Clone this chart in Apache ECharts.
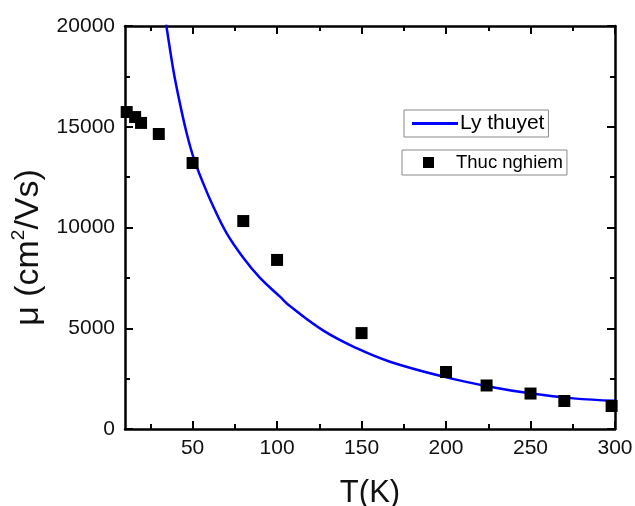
<!DOCTYPE html>
<html>
<head>
<meta charset="utf-8">
<script src="https://cdn.jsdelivr.net/npm/echarts@6/dist/echarts.min.js"></script>
<style>
html,body{margin:0;padding:0;background:#fff;}
#c{width:635px;height:506px;}
</style>
</head>
<body>
<div id="c"></div>
<script>
// Experimental data (Thuc nghiem)
const tExp = [11, 16, 19.5, 30, 50, 80, 100, 150, 200, 224, 250, 270, 298];
const muExp = [15730, 15480, 15190, 14640, 13200, 10320, 8390, 4760, 2830, 2160, 1760, 1390, 1140];
// Theoretical curve (Ly thuyet)
const tTheory = [33, 34.7, 38.6, 42.5, 46.5, 50.4, 56.3, 62.3, 70.2, 80, 89.9, 101.7, 107.6, 127.4, 147.1, 166.8, 198.4, 226, 249.7, 275.3, 300];
const muTheory = [20800, 19890, 17820, 16160, 14680, 13510, 12190, 11030, 9710, 8500, 7500, 6570, 6100, 4880, 4010, 3340, 2600, 2100, 1770, 1520, 1400];
// Axis ticks
const xMajor = [50, 100, 150, 200, 250, 300];
const xMinor = [25, 75, 125, 175, 225, 275];
const xMin = 10, xMax = 300;
const yMin = 0, yMax = 20000, yStep = 5000;

const FONT = 'Liberation Sans, Arial, sans-serif';
const chart = echarts.init(document.getElementById('c'));

function xAx(pos, ticks, len, withLine, withLabel, name) {
  const a = {
    type: 'value', position: pos, min: xMin, max: xMax,
    axisLine: {show: withLine, onZero: false, lineStyle: {color: '#000', width: 2.5}},
    axisTick: {show: true, inside: true, length: len, customValues: ticks, lineStyle: {color: '#000', width: 2}},
    axisLabel: withLabel ? {show: true, customValues: ticks, margin: 9, fontSize: 21, color: '#111', fontFamily: FONT} : {show: false},
    splitLine: {show: false}
  };
  if (name) {
    a.name = name; a.nameLocation = 'middle'; a.nameGap = 49;
    a.nameTextStyle = {fontSize: 31, color: '#111', fontFamily: FONT};
  }
  return a;
}
function yAx(pos, withLabel, name) {
  const a = {
    type: 'value', position: pos, min: yMin, max: yMax, interval: yStep,
    axisLine: {show: true, onZero: false, lineStyle: {color: '#000', width: 2.5}},
    axisTick: {show: true, inside: true, length: 8, lineStyle: {color: '#000', width: 2}},
    minorTick: {show: true, splitNumber: 2, length: 5, lineStyle: {color: '#000', width: 2}},
    axisLabel: withLabel ? {show: true, margin: 10, fontSize: 21, color: '#111', fontFamily: FONT, formatter: v => String(v)} : {show: false},
    splitLine: {show: false}, minorSplitLine: {show: false}
  };
  if (name) {
    a.name = name; a.nameLocation = 'middle'; a.nameGap = 66;
    a.nameTextStyle = {fontSize: 34, color: '#111', fontFamily: FONT, padding: [0, 40, 0, 0],
      rich: {sup: {fontSize: 19, color: '#111', fontFamily: FONT, verticalAlign: 'top', lineHeight: 38}}};
  }
  return a;
}

const expData = tExp.map((t, i) => [t, muExp[i]]);
const thData = tTheory.map((t, i) => [t, muTheory[i]]);

chart.setOption({
  animation: false,
  backgroundColor: '#fff',
  grid: {left: 125, right: 20, top: 26, bottom: 77, containLabel: false, outerBoundsMode: 'none'},
  xAxis: [
    xAx('bottom', xMajor, 8, true, true, 'T(K)'),
    xAx('bottom', xMinor, 5, false, false),
    xAx('top', xMajor, 8, true, false),
    xAx('top', xMinor, 5, false, false)
  ],
  yAxis: [
    yAx('left', true, 'μ (cm{sup|2}/Vs)'),
    yAx('right', false)
  ],
  legend: [
    {
      data: [{name: 'Ly thuyet', icon: 'rect'}], left: 404, top: 110, orient: 'horizontal',
      itemWidth: 46, itemHeight: 3,
      padding: [3, 4, 3, 8], borderColor: '#888', borderWidth: 1,
      textStyle: {fontSize: 21, color: '#000', fontFamily: FONT, padding: [0, 0, 0, -3]}
    },
    {
      data: ['Thuc nghiem'], left: 402, top: 150, orient: 'horizontal',
      itemWidth: 11, itemHeight: 11, icon: 'rect',
      padding: [3, 4, 3, 21], borderColor: '#888', borderWidth: 1,
      itemStyle: {opacity: 1},
      textStyle: {fontSize: 18.5, color: '#000', fontFamily: FONT, padding: [0, 0, 0, 17]}
    }
  ],
  series: [
    {
      name: 'Ly thuyet', type: 'line', xAxisIndex: 0, yAxisIndex: 0,
      data: thData, smooth: 0.4, showSymbol: false, symbol: 'none',
      clip: true, lineStyle: {color: '#0000ff', width: 2.5}, itemStyle: {color: '#0000ff'}, z: 2
    },
    {
      name: 'Thuc nghiem', type: 'scatter', xAxisIndex: 0, yAxisIndex: 0,
      data: expData, symbol: 'rect', symbolSize: 12, clip: false,
      itemStyle: {color: '#000', opacity: 1}, z: 3
    }
  ]
});
</script>
</body>
</html>
